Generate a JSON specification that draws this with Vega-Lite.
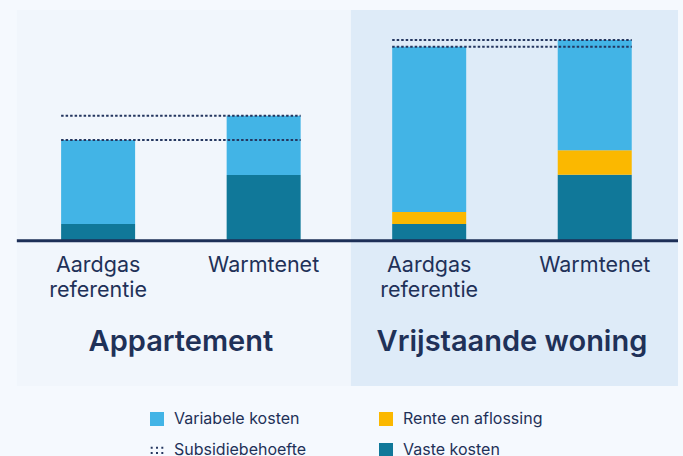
{
  "$schema": "https://vega.github.io/schema/vega-lite/v6.json",
  "width": 683,
  "height": 456,
  "autosize": {"type": "none"},
  "padding": 0,
  "background": "#f5f9fe",
  "config": {"view": {"stroke": null}, "font": "Inter"},
  "datasets": {
    "kosten": [
      {"woning": "Appartement", "variant": "Aardgas referentie", "nr": 1, "kosten": "Vaste kosten", "volgorde": 1, "waarde": 16},
      {"woning": "Appartement", "variant": "Aardgas referentie", "nr": 1, "kosten": "Variabele kosten", "volgorde": 3, "waarde": 84},
      {"woning": "Appartement", "variant": "Warmtenet", "nr": 2, "kosten": "Vaste kosten", "volgorde": 1, "waarde": 65},
      {"woning": "Appartement", "variant": "Warmtenet", "nr": 2, "kosten": "Variabele kosten", "volgorde": 3, "waarde": 59.3},
      {"woning": "Vrijstaande woning", "variant": "Aardgas referentie", "nr": 3, "kosten": "Vaste kosten", "volgorde": 1, "waarde": 16},
      {"woning": "Vrijstaande woning", "variant": "Aardgas referentie", "nr": 3, "kosten": "Rente en aflossing", "volgorde": 2, "waarde": 12},
      {"woning": "Vrijstaande woning", "variant": "Aardgas referentie", "nr": 3, "kosten": "Variabele kosten", "volgorde": 3, "waarde": 165.3},
      {"woning": "Vrijstaande woning", "variant": "Warmtenet", "nr": 4, "kosten": "Vaste kosten", "volgorde": 1, "waarde": 65.3},
      {"woning": "Vrijstaande woning", "variant": "Warmtenet", "nr": 4, "kosten": "Rente en aflossing", "volgorde": 2, "waarde": 24.4},
      {"woning": "Vrijstaande woning", "variant": "Warmtenet", "nr": 4, "kosten": "Variabele kosten", "volgorde": 3, "waarde": 110.3}
    ],
    "subsidie": [
      {"woning": "Appartement", "van": 1, "tot": 2, "waarde": 100},
      {"woning": "Appartement", "van": 1, "tot": 2, "waarde": 124.3},
      {"woning": "Vrijstaande woning", "van": 3, "tot": 4, "waarde": 193.3},
      {"woning": "Vrijstaande woning", "van": 3, "tot": 4, "waarde": 200}
    ]
  },
  "layer": [
    {
      "data": {"values": [{}]},
      "mark": {"type": "rect", "color": "#f1f6fc"},
      "encoding": {
        "x": {"datum": 0.509, "type": "quantitative", "scale": {"domain": [0.4375, 4.503], "nice": false, "zero": false}, "axis": null},
        "x2": {"datum": 2.527},
        "y": {"datum": 230, "type": "quantitative", "scale": {"domain": [-216, 240], "nice": false, "zero": false}, "axis": null},
        "y2": {"datum": -146}
      }
    },
    {
      "data": {"values": [{}]},
      "mark": {"type": "rect", "color": "#deebf8"},
      "encoding": {
        "x": {"datum": 2.527, "type": "quantitative"},
        "x2": {"datum": 4.503},
        "y": {"datum": 230, "type": "quantitative"},
        "y2": {"datum": -146}
      }
    },
    {
      "data": {"name": "kosten"},
      "mark": {"type": "bar", "width": 74, "orient": "vertical"},
      "encoding": {
        "x": {"field": "nr", "type": "quantitative"},
        "y": {"field": "waarde", "type": "quantitative", "stack": "zero"},
        "order": {"field": "volgorde", "type": "quantitative", "sort": "ascending"},
        "color": {
          "field": "kosten",
          "type": "nominal",
          "scale": {
            "domain": ["Variabele kosten", "Subsidiebehoefte", "Rente en aflossing", "Vaste kosten"],
            "range": ["#42b4e6", "#24365f", "#fbb800", "#107899"]
          },
          "legend": {
            "title": null,
            "orient": "none",
            "legendX": 149,
            "legendY": 411,
            "columns": 2,
            "columnPadding": 71,
            "rowPadding": 15,
            "padding": 0,
            "symbolType": "square",
            "symbolSize": 196,
            "symbolStrokeWidth": 0,
            "labelFontSize": 16,
            "labelColor": "#1f3158",
            "labelOffset": 9,
            "encode": {
              "symbols": {
                "update": {
                  "shape": {"signal": "datum.value === 'Subsidiebehoefte' ? 'M-0.9,-0.45h0.28v0.28h-0.28zM-0.14,-0.45h0.28v0.28h-0.28zM0.62,-0.45h0.28v0.28h-0.28zM-0.9,0.3h0.28v0.28h-0.28zM-0.14,0.3h0.28v0.28h-0.28zM0.62,0.3h0.28v0.28h-0.28z' : 'square'"}
                }
              }
            }
          }
        }
      }
    },
    {
      "data": {"values": [{}]},
      "mark": {"type": "rule", "color": "#1d2f57", "strokeWidth": 3},
      "encoding": {
        "x": {"datum": 0.509, "type": "quantitative"},
        "x2": {"datum": 4.503},
        "y": {"datum": -0.8, "type": "quantitative"}
      }
    },
    {
      "data": {"name": "subsidie"},
      "mark": {"type": "rule", "color": "#24365f", "strokeWidth": 2, "strokeDash": [2.5, 2], "xOffset": -37, "x2Offset": 37},
      "encoding": {
        "x": {"field": "van", "type": "quantitative"},
        "x2": {"field": "tot"},
        "y": {"field": "waarde", "type": "quantitative"}
      }
    },
    {
      "data": {"name": "kosten"},
      "transform": [{"filter": "datum.kosten === 'Vaste kosten'"}],
      "mark": {"type": "text", "fontSize": 21.5, "color": "#1f3158", "align": "center", "baseline": "alphabetic", "lineBreak": " ", "lineHeight": 25},
      "encoding": {
        "x": {"field": "nr", "type": "quantitative"},
        "y": {"datum": -32, "type": "quantitative"},
        "text": {"field": "variant"}
      }
    },
    {
      "data": {"name": "kosten"},
      "transform": [{"filter": "datum.kosten === 'Vaste kosten'"}],
      "mark": {"type": "text", "fontSize": 29, "fontWeight": 600, "color": "#1f3158", "align": "center", "baseline": "alphabetic"},
      "encoding": {
        "x": {"aggregate": "mean", "field": "nr", "type": "quantitative"},
        "y": {"datum": -111, "type": "quantitative"},
        "text": {"field": "woning"}
      }
    }
  ]
}
